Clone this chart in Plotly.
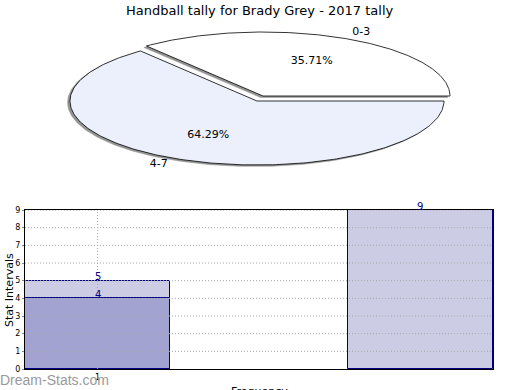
import numpy as np
import plotly.graph_objects as go

# ---------------- data ----------------
title = "Handball tally for Brady Grey - 2017 tally"
pie_labels = ["0-3", "4-7"]
pie_values = [5, 9]

bar_x = [1, 2]
bar_light = [5, 9]
bar_dark_x = [1]
bar_dark = [4]
y_ticks = list(range(0, 10))
x_ticks = [1]
x_title = "Frequency"
y_title = "Stat Intervals"
watermark = "Dream-Stats.com"

# ---------------- layout constants ----------------
W, H = 520, 390
FONT = "DejaVu Sans, Verdana, sans-serif"
WM_FONT = "Liberation Sans, Arial, sans-serif"
rx, ry = 187, 64
centers = [(263, 96), (257, 101)]
fills = ["#ffffff", "#ebf0fc"]
shadow_off = (-2.5, 1.5)

fig = go.Figure()

# ---------------- pie (elliptical, exploded) ----------------
total = float(sum(pie_values))
start = 0.0
slices = []
for lab, v, (cx, cy), fc in zip(pie_labels, pie_values, centers, fills):
    ang = v / total * 2 * np.pi
    t = np.linspace(start, start + ang, 240)
    xs = np.concatenate([[cx], cx + rx * np.cos(t), [cx]])
    ys = np.concatenate([[cy], cy - ry * np.sin(t), [cy]])
    mid = start + ang / 2
    slices.append((lab, v, cx, cy, fc, xs, ys, mid))
    start += ang

for lab, v, cx, cy, fc, xs, ys, mid in reversed(slices):
    fig.add_trace(go.Scatter(x=xs + shadow_off[0], y=ys + shadow_off[1], mode="lines",
                             fill="toself", fillcolor="#939393",
                             line=dict(color="#939393", width=0.5),
                             xaxis="x2", yaxis="y2", hoverinfo="skip", showlegend=False))
    fig.add_trace(go.Scatter(x=xs, y=ys, mode="lines", fill="toself", fillcolor=fc,
                             line=dict(color="#000000", width=0.8),
                             xaxis="x2", yaxis="y2", hoverinfo="skip", showlegend=False))

for lab, v, cx, cy, fc, xs, ys, mid in slices:
    px_ = cx + 0.6 * rx * np.cos(mid)
    py_ = cy - 0.6 * ry * np.sin(mid)
    fig.add_trace(go.Scatter(x=[px_], y=[py_], mode="text",
                             text=[f"{v / total * 100:.2f}%"],
                             textfont=dict(family=FONT, size=11, color="#000000"),
                             xaxis="x2", yaxis="y2", hoverinfo="skip", showlegend=False))
    lx = cx + 1.1 * rx * np.cos(mid)
    ly = cy - 1.1 * ry * np.sin(mid)
    fig.add_trace(go.Scatter(x=[lx], y=[ly], mode="text", text=[lab],
                             textposition="middle right" if np.cos(mid) > 0 else "middle left",
                             textfont=dict(family=FONT, size=11, color="#000000"),
                             xaxis="x2", yaxis="y2", hoverinfo="skip", showlegend=False))

# ---------------- bars ----------------
bw = 0.45
fig.add_trace(go.Bar(x=bar_x, y=bar_light, width=bw,
                     marker=dict(color="#ccccE4", line=dict(color="#000080", width=1)),
                     showlegend=False, hoverinfo="skip", xaxis="x", yaxis="y"))
fig.add_trace(go.Bar(x=bar_dark_x, y=bar_dark, width=bw,
                     marker=dict(color="#a3a3d1", line=dict(color="#000080", width=1)),
                     showlegend=False, hoverinfo="skip", xaxis="x", yaxis="y"))

annotations = []
for xs_, vs_ in ((bar_x, bar_light), (bar_dark_x, bar_dark)):
    for xv, yv in zip(xs_, vs_):
        annotations.append(dict(text=str(yv), x=xv, y=yv, xref="x", yref="y", showarrow=False,
                                yshift=4, font=dict(size=10, family=FONT, color="#000080")))

# dotted grid drawn above bars
shapes = []
for yv in y_ticks[1:]:
    shapes.append(dict(type="line", xref="x domain", yref="y", x0=0, x1=1, y0=yv, y1=yv,
                       line=dict(color="#a8a8a8", width=1, dash="1px,2px"), layer="above"))
for xv in x_ticks:
    shapes.append(dict(type="line", xref="x", yref="y domain", x0=xv, x1=xv, y0=0, y1=1,
                       line=dict(color="#a8a8a8", width=1, dash="1px,2px"), layer="above"))

x_lo = min(bar_x) - bw / 2
x_hi = max(bar_x) + bw / 2

annotations += [
    dict(text=title, x=260, y=10, xref="x2", yref="y2", showarrow=False,
         font=dict(size=13, family=FONT, color="#000000")),
    dict(text=y_title, x=9, y=290, xref="x2", yref="y2", showarrow=False, textangle=-90,
         font=dict(size=11, family=FONT, color="#000000")),
    dict(text=x_title, x=259, y=383, xref="x2", yref="y2", showarrow=False,
         yanchor="top", font=dict(size=11, family=FONT, color="#000000")),
    dict(text=watermark, x=-0.003, y=(H - 380) / H, xref="paper", yref="paper",
         showarrow=False, xanchor="left", yanchor="middle",
         font=dict(size=14, family=WM_FONT, color="#9a9a9a")),
]

fig.update_layout(
    template="none",
    width=W, height=H,
    margin=dict(l=0, r=0, t=0, b=0, pad=0, autoexpand=False),
    paper_bgcolor="#ffffff", plot_bgcolor="rgba(0,0,0,0)",
    barmode="overlay", bargap=0,
    font=dict(family=FONT, color="#000000"),
    shapes=shapes,
    annotations=annotations,
    xaxis=dict(domain=[25 / W, 493 / W], range=[x_lo, x_hi], tickvals=x_ticks,
               ticktext=[str(t) for t in x_ticks], showgrid=False, zeroline=False,
               showline=True, mirror=True, linecolor="#000000", linewidth=1,
               ticks="", tickfont=dict(size=8, family=FONT), fixedrange=True,
               automargin=False),
    yaxis=dict(domain=[(H - 369) / H, (H - 210) / H], range=[0, max(y_ticks)],
               tickvals=y_ticks, showgrid=False, zeroline=False,
               showline=True, mirror=True, linecolor="#000000", linewidth=1,
               ticks="outside", ticklen=2, tickcolor="#888888",
               tickfont=dict(size=8, family=FONT), fixedrange=True, automargin=False),
    xaxis2=dict(domain=[0, 1], range=[0, W], visible=False, fixedrange=True,
                anchor="y2", automargin=False),
    yaxis2=dict(domain=[0, 1], range=[H, 0], visible=False, fixedrange=True,
                anchor="x2", automargin=False),
)

fig.write_html("out.html", config={"displayModeBar": False, "responsive": False})
with open("out.html", "r", encoding="utf-8") as f:
    html = f.read()
html = html.replace("<head>", "<head><style>body{margin:0;padding:0;overflow:hidden;}</style>", 1)
with open("out.html", "w", encoding="utf-8") as f:
    f.write(html)
